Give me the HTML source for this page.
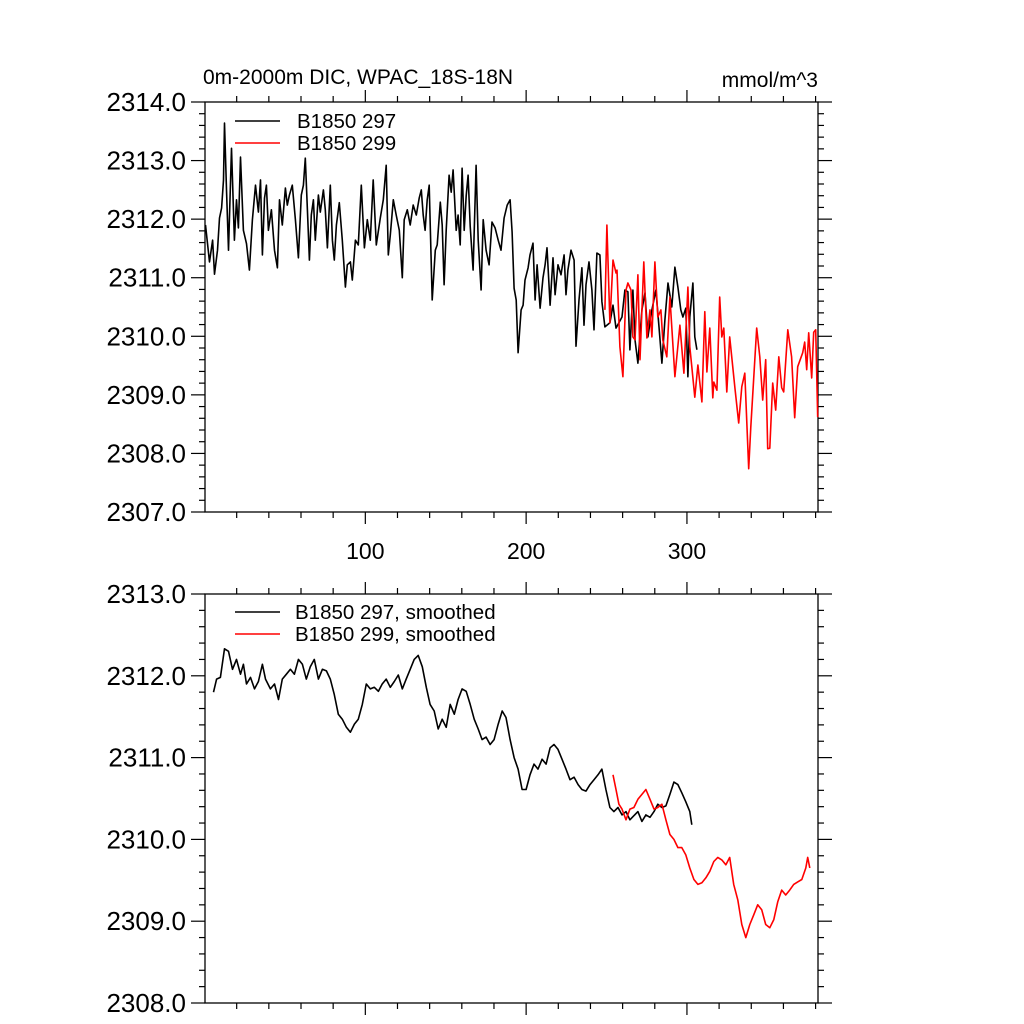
<!DOCTYPE html>
<html><head><meta charset="utf-8"><style>
html,body{margin:0;padding:0;background:#fff;}
svg{display:block;font-family:"Liberation Sans",sans-serif;}
</style></head><body>
<svg id="chart" width="1024" height="1024" viewBox="0 0 1024 1024" xmlns="http://www.w3.org/2000/svg">
<rect width="1024" height="1024" fill="#fff"/>
<g id="axes"></g>
<g id="series"></g>
<text x="203" y="84" font-size="21">0m-2000m DIC, WPAC_18S-18N</text>
<text x="818" y="87" font-size="21" text-anchor="end">mmol/m^3</text>
<g>
<line x1="235" y1="121" x2="280" y2="121" stroke="#000" stroke-width="1.5"/>
<text x="297" y="128" font-size="20.5">B1850 297</text>
<line x1="235" y1="143" x2="280" y2="143" stroke="#f00" stroke-width="1.5"/>
<text x="297" y="150" font-size="20.5">B1850 299</text>
</g>
<g>
<line x1="235" y1="612" x2="280" y2="612" stroke="#000" stroke-width="1.5"/>
<text x="295" y="619" font-size="20.5">B1850 297, smoothed</text>
<line x1="235" y1="634" x2="280" y2="634" stroke="#f00" stroke-width="1.5"/>
<text x="295" y="641" font-size="20.5">B1850 299, smoothed</text>
</g>
</svg>
<script>
const rawBlackYears=[0.6,3.1,5.0,6.2,8.1,9.3,10.6,11.8,12.4,13.7,14.9,16.8,18.6,19.9,21.1,22.4,24.2,26.1,27.9,29.8,31.7,33.5,34.8,36.0,37.3,38.5,39.7,41.6,43.5,45.3,46.6,48.4,50.3,51.5,52.8,54.6,56.5,58.4,60.2,61.5,62.7,64.0,65.2,66.4,67.7,68.9,70.8,72.0,73.9,75.1,76.4,78.2,79.5,80.7,82.0,83.8,85.7,87.6,88.8,90.7,91.9,93.8,95.6,97.5,99.4,101.2,103.1,104.9,106.8,109.3,111.2,113.0,114.3,115.5,117.4,119.2,121.1,123.0,124.2,126.1,127.9,129.8,131.7,133.5,134.8,136.0,137.2,138.5,139.7,141.6,143.5,144.7,146.6,147.8,149.0,150.3,152.1,153.4,154.6,156.5,157.7,159.0,160.2,161.5,162.7,163.9,165.2,167.0,168.9,170.2,172.0,173.3,175.1,177.0,178.8,180.7,182.6,184.4,186.3,188.2,190.0,191.3,192.5,193.8,195.0,196.9,198.1,199.3,201.2,202.4,204.3,205.6,206.8,208.7,210.5,211.8,213.0,214.9,216.7,218.0,219.8,221.7,223.6,224.8,226.0,227.9,229.8,231.0,232.9,234.7,236.0,237.2,239.1,240.9,242.2,244.0,245.9,247.1,249.0,252.1,254.0,255.9,259.6,261.4,263.3,264.5,266.4,267.7,269.5,272.0,273.9,275.7,278.2,280.7,282.6,284.4,286.3,288.2,290.6,292.5,294.4,296.2,297.5,299.3,300.6,301.8,303.7,304.9,306.2];
const rawBlackValues=[2311.90,2311.27,2311.64,2311.06,2311.47,2312.02,2312.19,2312.67,2313.64,2312.50,2311.47,2313.21,2311.64,2312.33,2311.85,2313.06,2311.81,2311.58,2311.13,2311.99,2312.58,2312.12,2312.67,2311.39,2312.36,2312.58,2311.81,2312.16,2311.47,2311.17,2312.33,2311.90,2312.53,2312.24,2312.41,2312.58,2311.99,2311.34,2312.41,2312.58,2313.04,2312.16,2311.30,2312.07,2312.33,2311.64,2312.41,2312.12,2312.50,2312.16,2311.51,2312.58,2311.64,2311.30,2311.90,2312.28,2311.64,2310.84,2311.22,2311.27,2310.96,2311.64,2311.56,2312.58,2311.51,2311.99,2311.64,2312.67,2311.56,2312.02,2312.33,2312.92,2311.39,2311.73,2312.33,2312.07,2311.81,2311.00,2311.99,2312.16,2311.90,2312.24,2312.07,2312.36,2312.50,2312.07,2311.81,2312.33,2312.58,2310.62,2311.47,2311.56,2312.29,2311.90,2310.88,2311.81,2312.75,2312.46,2312.84,2311.81,2312.07,2311.56,2312.87,2311.81,2312.40,2312.75,2311.88,2311.13,2312.92,2311.64,2310.79,2311.99,2311.47,2311.22,2311.95,2311.85,2311.64,2311.47,2312.02,2312.24,2312.33,2311.78,2310.82,2310.62,2309.72,2310.45,2310.53,2310.96,2311.17,2311.39,2311.59,2310.62,2311.22,2310.48,2311.00,2311.22,2311.51,2310.53,2311.34,2310.71,2311.22,2311.05,2311.39,2310.71,2311.13,2311.47,2311.30,2309.83,2310.62,2311.17,2310.19,2310.88,2311.27,2310.79,2310.11,2311.42,2311.39,2310.59,2310.16,2310.23,2310.53,2310.14,2310.33,2310.79,2310.76,2309.77,2310.79,2309.94,2309.54,2310.45,2310.74,2309.99,2310.45,2310.79,2310.16,2309.54,2310.28,2310.91,2310.50,2311.18,2310.84,2310.45,2310.33,2310.48,2309.31,2310.33,2310.91,2309.99,2309.77];
const rawRedYears=[249.0,250.2,252.1,254.0,255.9,256.5,258.3,260.2,262.1,263.3,265.2,266.4,267.7,269.5,270.8,273.2,275.1,277.0,278.2,280.1,281.9,283.8,285.0,287.5,289.4,292.5,295.6,298.1,300.6,301.8,303.0,304.9,306.8,309.3,311.1,312.4,314.2,316.1,316.7,318.6,320.4,321.7,322.9,324.8,326.6,329.8,332.2,334.1,336.0,338.4,339.7,343.4,345.3,347.1,349.0,350.2,351.5,353.3,355.2,357.1,358.9,360.2,362.7,365.1,367.0,368.9,372.0,373.2,374.5,375.7,377.6,378.8,380.1,381.3];
const rawRedValues=[2310.45,2311.90,2310.23,2311.30,2311.08,2311.13,2309.82,2309.31,2310.79,2310.91,2310.79,2309.99,2309.94,2311.05,2309.60,2311.27,2309.97,2310.45,2309.99,2311.27,2310.33,2310.45,2309.94,2309.65,2310.67,2309.31,2310.19,2309.37,2310.84,2309.82,2309.48,2308.96,2309.51,2308.88,2310.42,2309.39,2310.14,2308.95,2309.22,2309.08,2310.67,2309.99,2310.14,2309.05,2309.99,2309.12,2308.52,2309.14,2309.37,2307.74,2308.45,2310.14,2309.65,2308.91,2309.60,2308.08,2308.09,2309.20,2308.74,2309.65,2309.12,2309.05,2310.11,2309.65,2308.61,2309.48,2309.72,2309.90,2309.43,2310.06,2309.29,2310.07,2310.11,2308.62];
const smBlackYears=[5.6,7.5,9.9,12.4,14.9,17.4,19.9,22.4,24.2,26.1,28.6,31.1,33.5,36.0,37.9,41.0,43.5,46.0,48.4,50.9,53.4,55.9,58.4,60.9,63.3,65.8,68.3,70.8,73.3,75.8,78.2,80.7,83.2,85.7,88.2,90.7,93.2,95.6,98.1,100.6,103.1,105.6,108.1,110.5,113.0,115.5,118.0,120.5,123.0,125.4,127.9,130.4,132.9,135.4,137.9,140.3,142.8,145.3,147.8,150.3,152.8,155.3,157.7,160.2,162.7,165.2,167.7,170.2,172.6,175.1,177.6,180.1,182.6,185.1,187.5,190.0,192.5,195.0,197.5,200.0,202.4,204.9,207.4,209.9,212.4,214.9,217.3,219.8,222.3,224.8,227.3,229.8,232.3,234.7,237.2,239.7,242.2,244.7,247.1,249.6,252.1,254.6,257.1,259.6,262.1,264.5,267.0,269.5,272.0,274.5,277.0,279.5,281.9,284.4,286.9,289.4,291.9,294.4,296.8,299.3,301.8,303.0];
const smBlackValues=[2311.80,2311.96,2311.98,2312.33,2312.30,2312.08,2312.20,2312.02,2312.14,2311.90,2311.98,2311.84,2311.93,2312.14,2311.96,2311.84,2311.90,2311.71,2311.96,2312.02,2312.08,2312.02,2312.20,2312.14,2311.96,2312.11,2312.20,2311.96,2312.08,2312.06,2311.96,2311.77,2311.53,2311.47,2311.37,2311.31,2311.41,2311.47,2311.65,2311.90,2311.84,2311.86,2311.81,2311.90,2311.96,2311.86,2311.93,2312.01,2311.84,2311.96,2312.08,2312.20,2312.25,2312.11,2311.86,2311.65,2311.57,2311.35,2311.47,2311.37,2311.65,2311.53,2311.71,2311.84,2311.81,2311.65,2311.47,2311.35,2311.22,2311.25,2311.16,2311.22,2311.41,2311.57,2311.49,2311.22,2311.00,2310.86,2310.61,2310.61,2310.79,2310.92,2310.86,2310.98,2310.92,2311.12,2311.16,2311.10,2310.98,2310.86,2310.73,2310.76,2310.67,2310.61,2310.59,2310.67,2310.73,2310.79,2310.86,2310.61,2310.39,2310.34,2310.39,2310.30,2310.34,2310.24,2310.29,2310.34,2310.22,2310.30,2310.27,2310.34,2310.43,2310.39,2310.41,2310.55,2310.70,2310.67,2310.57,2310.46,2310.34,2310.18];
const smRedYears=[254.0,255.9,257.7,259.6,262.1,264.5,267.0,269.5,272.0,274.5,277.0,279.5,281.9,284.4,286.9,289.4,291.9,294.4,296.8,299.3,301.8,304.3,306.8,309.3,311.8,314.2,316.7,319.2,321.7,324.2,326.6,329.1,331.6,334.1,336.6,339.1,341.6,344.0,346.5,349.0,351.5,354.0,356.5,358.9,361.4,363.9,366.4,368.9,371.4,373.9,375.1,376.4];
const smRedValues=[2310.79,2310.61,2310.43,2310.37,2310.24,2310.37,2310.39,2310.49,2310.55,2310.61,2310.49,2310.37,2310.39,2310.43,2310.24,2310.06,2310.00,2309.90,2309.90,2309.81,2309.65,2309.51,2309.45,2309.47,2309.53,2309.61,2309.73,2309.78,2309.75,2309.69,2309.78,2309.45,2309.26,2308.96,2308.80,2308.96,2309.08,2309.20,2309.14,2308.96,2308.92,2309.02,2309.24,2309.38,2309.32,2309.38,2309.45,2309.48,2309.51,2309.65,2309.78,2309.65];
const topYTicks=[2307,2308,2309,2310,2311,2312,2313,2314];
const botYTicks=[2308,2309,2310,2311,2312,2313];
const xTickLabels=[100,200,300];

const NS='http://www.w3.org/2000/svg';
const X0=205,X1=818,XMIN=0.3,XMAX=381.5;
function xs(v){return X0+(v-XMIN)/(XMAX-XMIN)*(X1-X0);}
function mkY(top,bot,vmax,vmin){return v=>top+(vmax-v)/(vmax-vmin)*(bot-top);}
const yTop=mkY(102,512,2314,2307);
const yBot=mkY(594,1003,2313,2308);
const axes=document.getElementById('axes');
const series=document.getElementById('series');
function el(tag,attrs,parent){const e=document.createElementNS(NS,tag);for(const k in attrs)e.setAttribute(k,attrs[k]);parent.appendChild(e);return e;}
function ln(x1,y1,x2,y2,p){return el('line',{x1,y1,x2,y2,stroke:'#000','stroke-width':1.2},p);}

function panel(name,top,bot,ys,vmin,vmax,yticks,showXLabels){
  const g=el('g',{},axes);
  
  
  el('rect',{x:X0,y:top,width:X1-X0,height:bot-top,fill:'none',stroke:'#000','stroke-width':1.3},g);
  for(let v=vmin;v<=vmax+1e-6;v+=0.2){
    const y=ys(v);const major=Math.abs(v-Math.round(v))<1e-6;
    const L=major?14:6;
    ln(X0-L,y,X0,y,g);ln(X1,y,X1+L,y,g);
  }
  yticks.forEach(v=>{
    const t=el('text',{x:186,y:ys(v)+9,'font-size':26,'text-anchor':'end'},g);
    
    
    t.textContent=v.toFixed(1);
  });
  for(let v=20;v<=XMAX;v+=20){
    const x=xs(v);const major=v%100===0;const L=major?12:6;
    ln(x,top-L,x,top,g);ln(x,bot,x,bot+L,g);
  }
  if(showXLabels){
    xTickLabels.forEach(v=>{
      const t=el('text',{x:xs(v),y:559,'font-size':23,'text-anchor':'middle'},g);
      
      
      t.textContent=v;
    });
  }
}
panel('top-panel',102,512,yTop,2307,2314,topYTicks,true);
panel('bottom-panel',594,1003,yBot,2308,2313,botYTicks,false);

function line(xsArr,vals,ys,color,name){
  const d=xsArr.map((x,i)=>(i?'L':'M')+xs(x).toFixed(1)+' '+ys(vals[i]).toFixed(1)).join('');
  const p=el('path',{d,fill:'none',stroke:color,'stroke-width':1.6,'stroke-linejoin':'round'},series);
  
  
}
line(rawBlackYears,rawBlackValues,yTop,'#000','series-297-raw');
line(rawRedYears,rawRedValues,yTop,'#f00','series-299-raw');
line(smBlackYears,smBlackValues,yBot,'#000','series-297-smoothed');
line(smRedYears,smRedValues,yBot,'#f00','series-299-smoothed');
</script>
</body></html>
